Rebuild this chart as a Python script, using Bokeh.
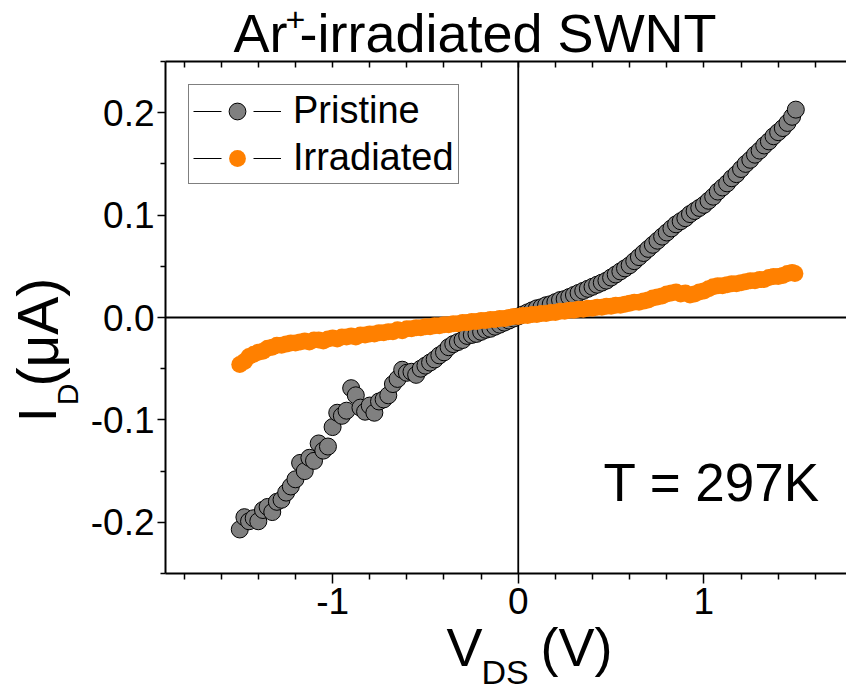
from bokeh.plotting import figure
from bokeh.layouts import column, row
from bokeh.models import (ColumnDataSource, Span, Label, Legend, LegendItem, FixedTicker,
                          CustomJSTickFormatter, LinearAxis, Range1d)
from bokeh.embed import file_html
from bokeh.resources import INLINE
import math

FONT = "Liberation Sans"
NAN = float("nan")

# ---------------- data ----------------
v_pristine = [-1.500, -1.475, -1.450, -1.425, -1.400, -1.375, -1.350, -1.325, -1.300, -1.275,
              -1.250, -1.225, -1.200, -1.175, -1.150, -1.125, -1.100, -1.075, -1.050, -1.025,
              -1.000, -0.975, -0.950, -0.925, -0.900, -0.875, -0.850, -0.825, -0.800, -0.775,
              -0.750, -0.725, -0.700, -0.675, -0.650, -0.625, -0.600, -0.575, -0.550, -0.525,
              -0.500, -0.475, -0.450, -0.425, -0.400, -0.375, -0.350, -0.325, -0.300, -0.275,
              -0.250, -0.225, -0.200, -0.175, -0.150, -0.125, -0.100, -0.075, -0.050, -0.025,
              0.000, 0.025, 0.050, 0.075, 0.100, 0.125, 0.150, 0.175, 0.200, 0.225,
              0.250, 0.275, 0.300, 0.325, 0.350, 0.375, 0.400, 0.425, 0.450, 0.475,
              0.500, 0.525, 0.550, 0.575, 0.600, 0.625, 0.650, 0.675, 0.700, 0.725,
              0.750, 0.775, 0.800, 0.825, 0.850, 0.875, 0.900, 0.925, 0.950, 0.975,
              1.000, 1.025, 1.050, 1.075, 1.100, 1.125, 1.150, 1.175, 1.200, 1.225,
              1.250, 1.275, 1.300, 1.325, 1.350, 1.375, 1.400, 1.425, 1.450, 1.475, 1.495]
i_pristine = [-0.207, -0.195, -0.199, -0.196, -0.199, -0.188, -0.185, -0.190, -0.180, -0.178,
              -0.171, -0.165, -0.158, -0.142, -0.150, -0.137, -0.140, -0.123, -0.130, -0.126,
              -0.107, -0.093, -0.096, -0.091, -0.069, -0.076, -0.088, -0.092, -0.086, -0.093,
              -0.082, -0.080, -0.076, -0.065, -0.060, -0.051, -0.054, -0.053, -0.056, -0.050,
              -0.047, -0.044, -0.041, -0.037, -0.034, -0.029, -0.026, -0.024, -0.022, -0.018,
              -0.017, -0.016, -0.014, -0.012, -0.011, -0.009, -0.007, -0.005, -0.003, -0.001,
              0.001, 0.003, 0.005, 0.007, 0.009, 0.010, 0.012, 0.013, 0.015, 0.017,
              0.018, 0.020, 0.022, 0.024, 0.026, 0.028, 0.030, 0.032, 0.034, 0.036,
              0.039, 0.042, 0.045, 0.048, 0.051, 0.055, 0.059, 0.063, 0.067, 0.071,
              0.075, 0.079, 0.083, 0.087, 0.091, 0.094, 0.097, 0.101, 0.104, 0.107,
              0.110, 0.114, 0.118, 0.123, 0.127, 0.131, 0.136, 0.140, 0.145, 0.150,
              0.154, 0.159, 0.163, 0.168, 0.172, 0.177, 0.181, 0.185, 0.190, 0.196, 0.203]

v_irradiated = [-1.500, -1.475, -1.450, -1.425, -1.400, -1.375, -1.350, -1.325, -1.300, -1.275,
                -1.250, -1.225, -1.200, -1.175, -1.150, -1.125, -1.100, -1.075, -1.050, -1.025,
                -1.000, -0.975, -0.950, -0.925, -0.900, -0.875, -0.850, -0.825, -0.800, -0.775,
                -0.750, -0.725, -0.700, -0.675, -0.650, -0.625, -0.600, -0.575, -0.550, -0.525,
                -0.500, -0.475, -0.450, -0.425, -0.400, -0.375, -0.350, -0.325, -0.300, -0.275,
                -0.250, -0.225, -0.200, -0.175, -0.150, -0.125, -0.100, -0.075, -0.050, -0.025,
                0.000, 0.025, 0.050, 0.075, 0.100, 0.125, 0.150, 0.175, 0.200, 0.225,
                0.250, 0.275, 0.300, 0.325, 0.350, 0.375, 0.400, 0.425, 0.450, 0.475,
                0.500, 0.525, 0.550, 0.575, 0.600, 0.625, 0.650, 0.675, 0.700, 0.725,
                0.750, 0.775, 0.800, 0.825, 0.850, 0.875, 0.900, 0.925, 0.950, 0.975,
                1.000, 1.025, 1.050, 1.075, 1.100, 1.125, 1.150, 1.175, 1.200, 1.225,
                1.250, 1.275, 1.300, 1.325, 1.350, 1.375, 1.400, 1.425, 1.450, 1.475, 1.490]
i_irradiated = [-0.046, -0.043, -0.038, -0.036, -0.034, -0.033, -0.030, -0.029, -0.027, -0.027,
                -0.026, -0.025, -0.025, -0.024, -0.023, -0.024, -0.022, -0.022, -0.023, -0.021,
                -0.020, -0.021, -0.019, -0.019, -0.018, -0.019, -0.017, -0.017, -0.016, -0.016,
                -0.015, -0.015, -0.014, -0.014, -0.012, -0.013, -0.011, -0.011, -0.010, -0.010,
                -0.009, -0.009, -0.008, -0.008, -0.007, -0.007, -0.006, -0.006, -0.005, -0.005,
                -0.004, -0.004, -0.003, -0.003, -0.002, -0.002, -0.001, -0.001, 0.000, 0.001,
                0.001, 0.002, 0.002, 0.003, 0.003, 0.004, 0.004, 0.005, 0.005, 0.006,
                0.006, 0.007, 0.007, 0.008, 0.008, 0.009, 0.009, 0.010, 0.010, 0.011,
                0.011, 0.012, 0.012, 0.013, 0.014, 0.015, 0.015, 0.016, 0.017, 0.019,
                0.020, 0.021, 0.023, 0.024, 0.025, 0.023, 0.024, 0.022, 0.023, 0.025,
                0.026, 0.028, 0.030, 0.031, 0.031, 0.032, 0.033, 0.033, 0.034, 0.035,
                0.036, 0.036, 0.037, 0.037, 0.039, 0.040, 0.040, 0.041, 0.043, 0.044, 0.043]

x_major = [-1, 0, 1]
x_tick_labels = ["-1", "0", "1"]
x_minor = [-1.8, -1.6, -1.4, -1.2, -0.8, -0.6, -0.4, -0.2, 0.2, 0.4, 0.6, 0.8, 1.2, 1.4, 1.6]
y_major = [-0.2, -0.1, 0.0, 0.1, 0.2]
y_tick_labels = ["-0.2", "-0.1", "0.0", "0.1", "0.2"]
y_minor = [-0.25, -0.15, -0.05, 0.05, 0.15, 0.25]

series_names = ["Pristine", "Irradiated"]
annotation_text = "T = 297K"
title_parts = ["Ar", "+", "-irradiated SWNT"]
xlabel_parts = ["V", "DS", "(V)"]
ylabel_parts = ["I", "D", "(\u03bcA)"]

# Bokeh's "alphabetic" anchor sits ~0.4 em above the drawn baseline
BL = 0.40
# rotated labels come out shifted along the text direction; compensation
ROT_SHIFT = 35

# ---------------- layout sizes ----------------
W, H = 846, 693
ROW_TOP = 56                 # page y where the plot row starts
YLAB_W = 87
MAIN_W = W - YLAB_W
MAIN_H = 575
TITLE_H = 70                 # title strip, overlapping the row by TITLE_OVER
TITLE_OVER = TITLE_H - ROW_TOP
XLAB_TOP = 615               # x-label strip starts here (overlaps row bottom)
XLAB_H = H - XLAB_TOP
XLAB_OVER = ROW_TOP + MAIN_H - XLAB_TOP


def text_fig(w, h, xr, yr, margin=None):
    f = figure(width=w, height=h, x_range=Range1d(*xr), y_range=Range1d(*yr),
               output_backend="svg", toolbar_location=None, min_border=0,
               x_axis_location=None, y_axis_location=None, margin=margin)
    f.grid.visible = False
    f.outline_line_color = None
    f.background_fill_color = None
    f.border_fill_color = None
    return f


def put(f, text, x, y, size, angle=0.0, units="data"):
    f.add_layout(Label(x=x, y=y, x_units=units, y_units=units, text=text,
                       text_font=FONT, text_font_size=f"{size}px", text_color="black",
                       text_baseline="alphabetic", text_align="left", angle=angle))


# ---------------- main figure ----------------
p = figure(width=MAIN_W, height=MAIN_H,
           x_range=Range1d(-1.9, 1.768), y_range=Range1d(-0.25, 0.25),
           output_backend="svg", toolbar_location=None,
           x_axis_location=None, y_axis_location=None,
           min_border_left=76, min_border_right=0, min_border_top=5, min_border_bottom=58)
p.grid.visible = False
p.outline_line_color = None
p.background_fill_color = "white"
p.border_fill_color = None


def fmt(tick_values, tick_texts):
    return CustomJSTickFormatter(args=dict(tv=tick_values, tl=tick_texts), code="""
        for (let i = 0; i < tv.length; i++) {
            if (Math.abs(tick - tv[i]) < 1e-9) return tl[i];
        }
        return "";
    """)


def style_axis(ax):
    ax.axis_line_color = "black"
    ax.axis_line_width = 2
    ax.major_tick_line_color = "black"
    ax.minor_tick_line_color = "black"
    ax.major_tick_line_width = 1.5
    ax.minor_tick_line_width = 1.5
    ax.major_label_text_font = FONT
    ax.major_label_text_font_size = "37px"
    ax.major_label_text_color = "black"


yax = LinearAxis(ticker=FixedTicker(ticks=y_major, minor_ticks=y_minor),
                 formatter=fmt(y_major, y_tick_labels))
style_axis(yax)
yax.major_tick_out = 8
yax.major_tick_in = 0
yax.minor_tick_out = 5
yax.minor_tick_in = 0
yax.major_label_standoff = 3
p.add_layout(yax, "left")

xax = LinearAxis(ticker=FixedTicker(ticks=x_major, minor_ticks=x_minor),
                 formatter=fmt(x_major, x_tick_labels))
style_axis(xax)
xax.major_tick_out = 10
xax.major_tick_in = 0
xax.minor_tick_out = 6
xax.minor_tick_in = 0
xax.major_label_standoff = 4
p.add_layout(xax, "below")

tax = LinearAxis(ticker=FixedTicker(ticks=x_major, minor_ticks=x_minor),
                 formatter=fmt([], []))
style_axis(tax)
tax.major_tick_out = 0
tax.major_tick_in = 6
tax.minor_tick_out = 0
tax.minor_tick_in = 6
tax.major_label_text_font_size = "0px"
tax.major_label_standoff = 0
p.add_layout(tax, "above")

# zero lines
p.add_layout(Span(location=0, dimension="height", line_color="black", line_width=1.8, level="underlay"))
p.add_layout(Span(location=0, dimension="width", line_color="black", line_width=1.8, level="underlay"))

# data
src_p = ColumnDataSource(dict(x=v_pristine, y=i_pristine))
src_i = ColumnDataSource(dict(x=v_irradiated, y=i_irradiated))

r_p = p.scatter("x", "y", source=src_p, size=17, marker="circle",
                fill_color="#808080", line_color="black", line_width=1)
r_i = p.scatter("x", "y", source=src_i, size=17, marker="circle",
                fill_color="#FF8000", line_color=None)

# legend-only connecting-line glyphs (no drawable points)
ln_p = p.line(x=[NAN], y=[NAN], line_color="black", line_width=1, line_dash="28 32")
ln_i = p.line(x=[NAN], y=[NAN], line_color="black", line_width=1, line_dash="28 32")

legend = Legend(items=[LegendItem(label=series_names[0], renderers=[ln_p, r_p]),
                       LegendItem(label=series_names[1], renderers=[ln_i, r_i])],
                location="top_left", margin=23, padding=4, spacing=4,
                glyph_width=88, glyph_height=42, label_height=42, label_standoff=12,
                label_text_font=FONT, label_text_font_size="38px", label_text_color="black",
                border_line_color="black", border_line_width=1,
                background_fill_color="white", background_fill_alpha=1.0)
p.add_layout(legend)

# annotation inside the frame (screen units from frame bottom-left)
put(p, annotation_text, 438, 70 + BL * 53, 53, units="screen")

# ---------------- title strip (data coords == page pixels) ----------------
tf = text_fig(W, TITLE_H, (0, W), (TITLE_H, 0), margin=(0, 0, -TITLE_OVER, 0))
put(tf, title_parts[0], 233, 54 - BL * 54, 54)
put(tf, title_parts[1], 285, 32.5 - BL * 34, 34)
put(tf, title_parts[2], 299, 54 - BL * 54, 54)

# ---------------- y label strip ----------------
yf = text_fig(YLAB_W, MAIN_H, (0, YLAB_W), (ROW_TOP + MAIN_H, ROW_TOP))
rot = math.pi / 2
put(yf, ylabel_parts[0], 58 - BL * 54, 426 + ROT_SHIFT, 54, rot)
put(yf, ylabel_parts[1], 79 - BL * 30, 407 + ROT_SHIFT, 30, rot)
put(yf, ylabel_parts[2], 60 - BL * 57, 386 + ROT_SHIFT, 57, rot)

# ---------------- x label strip ----------------
xf = text_fig(W, XLAB_H, (0, W), (H, XLAB_TOP), margin=(-XLAB_OVER, 0, 0, 0))
put(xf, xlabel_parts[0], 446, 668 - BL * 54, 54)
put(xf, xlabel_parts[1], 481, 685 - BL * 34, 34)
put(xf, xlabel_parts[2], 540, 668 - BL * 54, 54)

layout = column(tf, row(yf, p), xf)
open("out.html", "w").write(file_html(layout, INLINE))
